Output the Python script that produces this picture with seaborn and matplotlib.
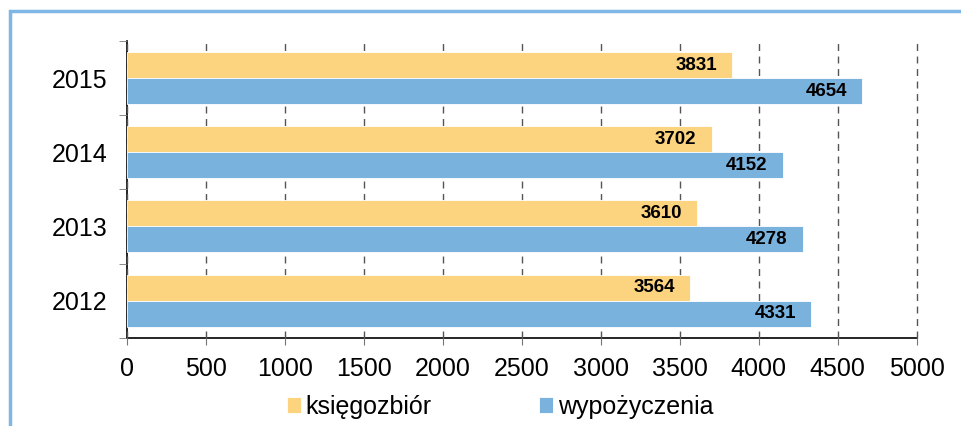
import numpy as np
import pandas as pd
import seaborn as sns
import matplotlib.pyplot as plt
from matplotlib.patches import Rectangle

# dane
lata = ['2015', '2014', '2013', '2012']
ksiegozbior = [3831, 3702, 3610, 3564]
wypozyczenia = [4654, 4152, 4278, 4331]
serie = ['księgozbiór', 'wypożyczenia']
kolory = ['#FCD37F', '#7AB2DE']

df = pd.DataFrame({
    'rok': lata * 2,
    'wartosc': ksiegozbior + wypozyczenia,
    'seria': [serie[0]] * 4 + [serie[1]] * 4,
})

sns.set_style('white')
plt.rcParams['font.family'] = ['Liberation Sans', 'DejaVu Sans']
plt.rcParams['text.color'] = 'black'
plt.rcParams['xtick.color'] = 'black'
plt.rcParams['ytick.color'] = 'black'

fig = plt.figure(figsize=(9.62, 4.26), dpi=100)
ax = fig.add_axes([0.132, 0.207, 0.821, 0.697])

sns.barplot(data=df, x='wartosc', y='rok', hue='seria', order=lata,
            hue_order=serie, palette=kolory, orient='h', width=0.7,
            saturation=1, edgecolor='white', linewidth=0.6, ax=ax)

# etykiety wartosci wewnatrz slupkow
for c in ax.containers:
    teksty = ax.bar_label(c, padding=-11, fontsize=13.5, fontweight='bold',
                          color='black')
    for t in teksty:
        t.set_ha('right')

ax.set_xlim(0, 5000)
ax.set_ylim(3.5, -0.5)
ax.set_xticks(np.arange(0, 5001, 500))
ax.set_xlabel('')
ax.set_ylabel('')

# siatka
ax.grid(axis='x', color='#555555', linestyle=(0, (5, 4)), linewidth=1)
for g in ax.get_xgridlines():
    g.set_clip_on(False)
ax.set_axisbelow(False)
for b in ax.patches:
    b.set_zorder(3)

ax.set_yticks(range(len(lata)))
ax.set_yticks(np.arange(-0.5, 4, 1), minor=True)
ax.tick_params(axis='y', which='major', length=0, pad=14, labelsize=18)
ax.tick_params(axis='y', which='minor', length=6, color='#777777', left=True)
ax.tick_params(axis='x', length=5, color='#777777', labelcolor='black',
               bottom=True, pad=9, labelsize=18)

for s in ['top', 'right']:
    ax.spines[s].set_visible(False)
for s in ['left', 'bottom']:
    ax.spines[s].set_color('black')
    ax.spines[s].set_linewidth(1.2)

ax.legend_.remove()
h, l = ax.get_legend_handles_labels()
fig.legend(h[:2], l[:2], loc='center', bbox_to_anchor=(0.52, 0.045), ncol=2,
           frameon=False, fontsize=18, handlelength=0.55, handleheight=0.55,
           handletextpad=0.2, columnspacing=4.3)

# ramka
fig.patches.append(Rectangle((9.5 / 962, -0.1), 1.2, 1 - 11 / 426 + 0.1,
                             transform=fig.transFigure, fill=False,
                             edgecolor='#7EB6E6', linewidth=2.5))

fig.savefig('out.png', dpi=100)
